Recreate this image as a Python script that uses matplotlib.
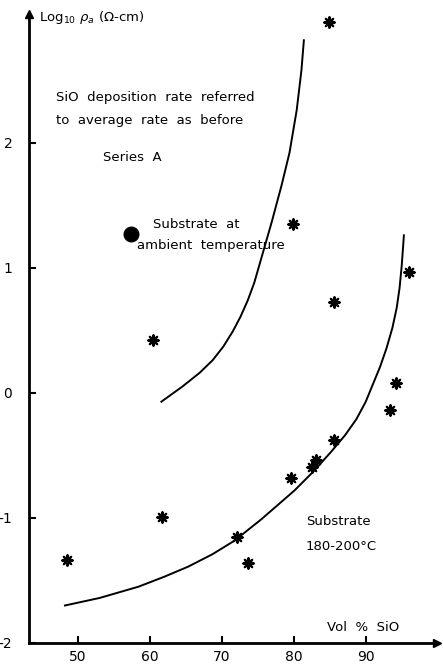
import numpy as np
import matplotlib
matplotlib.use("Agg")
import matplotlib.pyplot as plt

# Data points (Vol % SiO, log10 rho)
pts_x = [84.9, 60.4, 79.9, 85.6, 96.0, 94.2, 93.3, 85.6, 83.1, 82.5, 79.6, 61.7, 72.1, 73.6, 48.5]
pts_y = [2.97, 0.42, 1.35, 0.73, 0.97, 0.08, -0.14, -0.38, -0.54, -0.59, -0.68, -0.99, -1.15, -1.36, -1.34]

# Ambient-temperature reference point
dot_x = [57.4]
dot_y = [1.27]

# Curve: substrate at ambient temperature
amb_x = [61.6, 64.5, 66.9, 68.7, 70.2, 71.5, 72.6, 73.6, 74.5, 75.7, 76.9, 78.3, 79.4, 80.4, 81.06, 81.4]
amb_y = [-0.07, 0.05, 0.16, 0.26, 0.37, 0.49, 0.61, 0.74, 0.88, 1.12, 1.36, 1.66, 1.92, 2.26, 2.58, 2.82]

# Curve: substrate 180-200 C
hot_x = [48.2, 53.0, 58.4, 62.0, 65.3, 68.7, 71.8, 75.5, 80.1, 82.7, 85.2, 87.1, 88.7, 90.0, 91.0, 92.0, 92.9, 93.7, 94.3, 94.7, 95.0, 95.3]
hot_y = [-1.70, -1.64, -1.55, -1.47, -1.39, -1.29, -1.18, -1.01, -0.78, -0.63, -0.47, -0.34, -0.21, -0.07, 0.07, 0.21, 0.36, 0.52, 0.68, 0.84, 1.02, 1.26]

xticks = [50, 60, 70, 80, 90]
yticks = [-2, -1, 0, 1, 2]

plt.rcParams['font.family'] = ['DejaVu Sans']
fig = plt.figure(figsize=(4.43, 6.65), dpi=100)
ax = fig.add_axes([29/443, 1-643/665, (437-29)/443, (643-14)/665])
ax.set_xlim(43.2, 99.9)
ax.set_ylim(-2.0, 3.03)

for s in ['top', 'right']:
    ax.spines[s].set_visible(False)
for s in ['left', 'bottom']:
    ax.spines[s].set_linewidth(2.0)
ax.plot(1, -2.0, '>k', ms=6, transform=ax.get_yaxis_transform(), clip_on=False)
ax.plot(43.2, 1, '^k', ms=6, transform=ax.get_xaxis_transform(), clip_on=False)

ax.set_xticks(xticks)
ax.set_yticks(yticks)
ax.set_xticklabels([str(v) for v in xticks], fontsize=10)
ax.set_yticklabels([str(v) for v in yticks], fontsize=10)
ax.tick_params(direction='in', length=5, width=1.5, pad=5)
ax.tick_params(axis='y', pad=12)

ax.plot(amb_x, amb_y, color='black', lw=1.4, solid_joinstyle='round')
ax.plot(hot_x, hot_y, color='black', lw=1.4, solid_joinstyle='round')

ax.scatter(pts_x, pts_y, marker=(8, 2, 0), s=55, color='black', linewidths=1.6, zorder=3)
ax.scatter(pts_x, pts_y, marker='o', s=16, color='black', zorder=3)
ax.scatter(dot_x, dot_y, marker='o', s=110, color='black', zorder=3)

fs = 9.5
ax.text(44.6, 3.0, r'Log$_{10}$ $\rho_a$ ($\Omega$-cm)', fontsize=fs, va='center', ha='left')
ax.text(47.0, 2.36, 'SiO  deposition  rate  referred', fontsize=fs, va='center')
ax.text(47.0, 2.18, 'to  average  rate  as  before', fontsize=fs, va='center')
ax.text(53.5, 1.88, 'Series  A', fontsize=fs, va='center')
ax.text(60.5, 1.35, 'Substrate  at', fontsize=fs, va='center')
ax.text(58.2, 1.18, 'ambient  temperature', fontsize=fs, va='center')
ax.text(81.7, -1.03, 'Substrate', fontsize=fs, va='center')
ax.text(81.7, -1.23, '180-200\u00b0C', fontsize=fs, va='center')
ax.text(84.6, -1.88, 'Vol  %  SiO', fontsize=fs, va='center')

fig.savefig('out.png', dpi=100)
